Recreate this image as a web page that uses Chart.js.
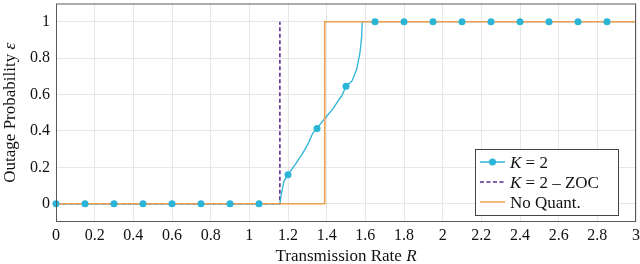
<!DOCTYPE html>
<html>
<head>
<meta charset="utf-8">
<script src="https://cdn.jsdelivr.net/npm/chart.js@4.4.0/dist/chart.umd.min.js"></script>
<style>
  html, body { margin: 0; padding: 0; background: #fff; }
  #wrap { width: 640px; height: 264px; }
</style>
</head>
<body>
<div id="wrap"><canvas id="chart"></canvas></div>
<script>
// K = 2 marks (every 0.15)
const markerR   = [0, 0.15, 0.3, 0.45, 0.6, 0.75, 0.9, 1.05, 1.2, 1.35, 1.5, 1.65, 1.8, 1.95, 2.1, 2.25, 2.4, 2.55, 2.7, 2.85];
const markerEps = [0, 0, 0, 0, 0, 0, 0, 0, 0.16, 0.414, 0.646, 1, 1, 1, 1, 1, 1, 1, 1, 1];

// K = 2 line
const curveR   = [0, 1.158, 1.162, 1.167, 1.179, 1.2, 1.236, 1.271, 1.305, 1.328, 1.35, 1.383, 1.433, 1.467, 1.478, 1.5, 1.53, 1.555, 1.572, 1.581, 1.584, 3];
const curveEps = [0, 0, 0.03, 0.06, 0.124, 0.16, 0.214, 0.269, 0.332, 0.387, 0.414, 0.459, 0.523, 0.577, 0.592, 0.646, 0.673, 0.737, 0.827, 0.918, 1, 1];

// K = 2 - ZOC
const zocR   = [0, 1.158, 1.158];
const zocEps = [0, 0, 1];

// No quantization
const noQuantR   = [0, 1.39, 1.39, 3];
const noQuantEps = [0, 0, 1, 1];

const xTicks = [0, 0.2, 0.4, 0.6, 0.8, 1, 1.2, 1.4, 1.6, 1.8, 2, 2.2, 2.4, 2.6, 2.8, 3];
const yTicks = [0, 0.2, 0.4, 0.6, 0.8, 1];

const CYAN = '#2ab4d6';
const ORANGE = '#ee9f50';
const PURPLE = '#5c2c8e';
const SERIF = "'Liberation Serif', 'DejaVu Serif', serif";

const pts = (xs, ys) => xs.map((x, i) => ({ x, y: ys[i] }));

// draw text made of plain and italic pieces
function richText(ctx, parts, x, y, size, align) {
  let total = 0;
  parts.forEach(p => {
    ctx.font = (p.it ? 'italic ' : '') + size + 'px ' + SERIF;
    p.w = ctx.measureText(p.t).width;
    total += p.w;
  });
  let cx = align === 'center' ? x - total / 2 : x;
  ctx.textAlign = 'left';
  ctx.textBaseline = 'alphabetic';
  parts.forEach(p => {
    ctx.font = (p.it ? 'italic ' : '') + size + 'px ' + SERIF;
    ctx.fillText(p.t, cx, y);
    cx += p.w;
  });
}

const decor = {
  id: 'decor',
  afterDatasetsDraw(chart) {
    const ctx = chart.ctx;
    const a = chart.chartArea;
    ctx.save();
    ctx.strokeStyle = '#5a5a5a';
    ctx.lineWidth = 1;
    ctx.strokeRect(a.left + 0.5, a.top + 0.5, a.right - a.left - 1, a.bottom - a.top - 1);

    // legend box
    const bx = a.right - 161, by = a.bottom - 73, bw = 143, bh = 66;
    ctx.fillStyle = '#fff';
    ctx.fillRect(bx, by, bw, bh);
    ctx.strokeStyle = '#444';
    ctx.strokeRect(bx + 0.5, by + 0.5, bw, bh);

    const rows = [
      { color: CYAN, dash: [], dot: true, parts: [{ t: 'K', it: true }, { t: ' = 2' }] },
      { color: PURPLE, dash: [4, 2.5], dot: false, parts: [{ t: 'K', it: true }, { t: ' = 2 – ZOC' }] },
      { color: ORANGE, dash: [], dot: false, parts: [{ t: 'No Quant.' }] }
    ];
    rows.forEach((r, i) => {
      const cy = by + 13 + i * 20;
      ctx.strokeStyle = r.color;
      ctx.lineWidth = 1.5;
      ctx.setLineDash(r.dash);
      ctx.beginPath();
      ctx.moveTo(bx + 5, cy);
      ctx.lineTo(bx + 30, cy);
      ctx.stroke();
      ctx.setLineDash([]);
      if (r.dot) {
        ctx.fillStyle = r.color;
        ctx.beginPath();
        ctx.arc(bx + 17.5, cy, 3.5, 0, Math.PI * 2);
        ctx.fill();
      }
      ctx.fillStyle = '#111';
      richText(ctx, r.parts, bx + 35, cy + 5.5, 17, 'left');
    });
    ctx.restore();
  },
  afterDraw(chart) {
    const ctx = chart.ctx;
    const a = chart.chartArea;
    ctx.save();
    ctx.fillStyle = '#111';
    richText(ctx, [{ t: 'Transmission Rate ' }, { t: 'R', it: true }], (a.left + a.right) / 2, 261, 17, 'center');
    ctx.translate(15, (a.top + a.bottom) / 2);
    ctx.rotate(-Math.PI / 2);
    richText(ctx, [{ t: 'Outage Probability ' }, { t: 'ε', it: true }], 0, 0, 17, 'center');
    ctx.restore();
  }
};

new Chart(document.getElementById('chart'), {
  type: 'scatter',
  data: {
    datasets: [
      { label: 'K = 2 marks', data: pts(markerR, markerEps), showLine: false,
        pointRadius: 3.5, pointHoverRadius: 3.5, pointBackgroundColor: CYAN, pointBorderWidth: 0, clip: 6 },
      { label: 'No Quant.', data: pts(noQuantR, noQuantEps), showLine: true,
        borderColor: ORANGE, borderWidth: 1.6, pointRadius: 0 },
      { label: 'K = 2', data: pts(curveR, curveEps), showLine: true,
        borderColor: CYAN, borderWidth: 1.3, pointRadius: 0, borderJoinStyle: 'round' },
      { label: 'K = 2 - ZOC', data: pts(zocR, zocEps), showLine: true,
        borderColor: PURPLE, borderWidth: 1.6, borderDash: [4, 2.5], pointRadius: 0 }
    ]
  },
  options: {
    responsive: true,
    maintainAspectRatio: false,
    animation: false,
    layout: { padding: { top: 1, right: 4, left: 0, bottom: 0 } },
    plugins: { legend: { display: false }, tooltip: { enabled: false } },
    scales: {
      x: {
        type: 'linear', min: 0, max: 3,
        afterBuildTicks: ax => { ax.ticks = xTicks.map(v => ({ value: v })); },
        afterFit: ax => { ax.height = 42; ax.paddingLeft = 0; ax.paddingRight = 0; },
        ticks: { padding: 4, color: '#111', font: { family: SERIF, size: 16 },
                 callback: v => String(Math.round(v * 10) / 10) },
        grid: { color: '#e6e6e6', drawTicks: false },
        border: { display: false }
      },
      y: {
        type: 'linear', min: -0.1, max: 1.1,
        afterBuildTicks: ax => { ax.ticks = yTicks.map(v => ({ value: v })); },
        afterFit: ax => { ax.width = 56; ax.paddingTop = 0; ax.paddingBottom = 0; },
        ticks: { padding: 6, color: '#111', font: { family: SERIF, size: 16 },
                 callback: v => String(Math.round(v * 10) / 10) },
        grid: { color: '#e6e6e6', drawTicks: false },
        border: { display: false }
      }
    }
  },
  plugins: [decor]
});
</script>
</body>
</html>
